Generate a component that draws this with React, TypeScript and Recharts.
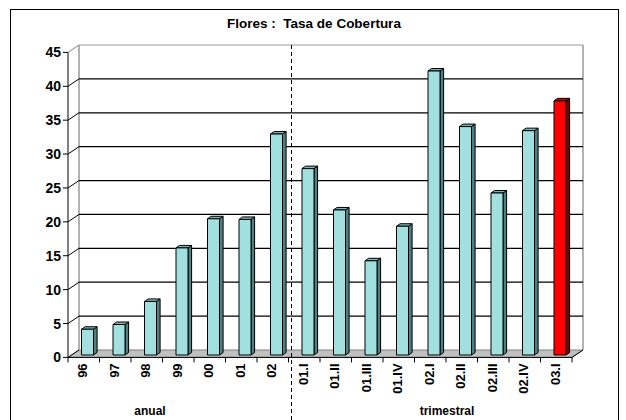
import React from "react";
import { BarChart, Bar, XAxis, YAxis, CartesianGrid } from "recharts";

const categories = ["96", "97", "98", "99", "00", "01", "02", "01.I", "01.II", "01.III", "01.IV", "02.I", "02.II", "02.III", "02.IV", "03.I"];
const tasa = [3.8, 4.5, 7.9, 15.8, 20.1, 20.0, 32.6, 27.5, 21.4, 13.9, 19.0, 41.9, 33.7, 23.9, 33.1, 37.5];
const yTicks = [0, 5, 10, 15, 20, 25, 30, 35, 40, 45];
const gridValues = [5, 10, 15, 20, 25, 30, 35, 40];
const groupLabels = ["anual", "trimestral"];
const highlighted = "03.I";

const data = categories.map((c, i) => ({ periodo: c, tasa: tasa[i] }));

// layout: plot area is the back wall, the front axes are shifted by the depth
const W = 626;
const H = 420;
const PL = 79;
const PT = 45;
const PR = 583;
const PB = 350;
const DX = -11;
const DY = 7.4;
const BAND = (PR - PL) / categories.length;
const YW = 60;
const XH = 50;

// bar placement inside the depth
const BX = -7.5;
const BY = 5;
const SX = 3.6;
const SY = -2.5;

const FONT = '"Liberation Sans", Arial, sans-serif';

function Box3D(props: any) {
  const { x, y, width, height, payload } = props;
  if (!height || height <= 0) return null;
  const red = payload.periodo === highlighted;
  const front = red ? "#ff0000" : "#a2e0e0";
  const side = red ? "#800000" : "#4f8080";
  const top = red ? "#c00000" : "#80b3b3";
  const fx = x + BX;
  const fy = y + BY;
  const w = width;
  const h = height;
  return (
    <g stroke="#000" strokeWidth={1} strokeLinejoin="round">
      <polygon
        points={`${fx + w},${fy} ${fx + w + SX},${fy + SY} ${fx + w + SX},${fy + h + SY} ${fx + w},${fy + h}`}
        fill={side}
      />
      <polygon
        points={`${fx},${fy} ${fx + SX},${fy + SY} ${fx + w + SX},${fy + SY} ${fx + w},${fy}`}
        fill={top}
      />
      <rect x={fx} y={fy} width={w} height={h} fill={front} />
    </g>
  );
}

function XTick(props: any) {
  const { x, payload } = props;
  const fx = x + DX;
  const half = BAND / 2;
  const last = payload.index === categories.length - 1;
  return (
    <g>
      <line x1={fx - half} y1={PB + DY} x2={fx - half} y2={PB + DY + 5} stroke="#000" />
      {last && <line x1={fx + half} y1={PB + DY} x2={fx + half} y2={PB + DY + 5} stroke="#000" />}
      <text
        transform={`translate(${fx - 1},${PB + DY + 6}) rotate(-90)`}
        textAnchor="end"
        dy="0.36em"
        fontFamily={FONT}
        fontWeight="bold"
        fontSize={13}
        fill="#000"
      >
        {payload.value}
      </text>
    </g>
  );
}

function YTick(props: any) {
  const { y, payload } = props;
  const fx = PL + DX;
  const fy = y + DY;
  return (
    <g>
      <line x1={PL} y1={y} x2={fx} y2={fy} stroke={payload.value === 45 ? "#808080" : "#000"} />
      <line x1={fx} y1={fy} x2={fx - 5} y2={fy} stroke="#000" />
      <text x={fx - 7} y={fy} dy="0.36em" textAnchor="end" fontFamily={FONT} fontWeight="bold" fontSize={14} fill="#000">
        {payload.value}
      </text>
    </g>
  );
}

export default function App() {
  const divX = 291.5;
  return (
    <div style={{ position: "relative", width: W, height: H, overflow: "hidden", background: "#fff" }}>
      <style>{"body{margin:0}"}</style>
      <svg width={W} height={H} style={{ position: "absolute", left: 0, top: 0 }}>
        <rect x={10.5} y={9.5} width={608} height={H} fill="#fff" stroke="#000" />
        <text
          x={314}
          y={23}
          textAnchor="middle"
          dy="0.36em"
          fontFamily={FONT}
          fontWeight="bold"
          fontSize={13.5}
          style={{ whiteSpace: "pre" }}
        >
          Flores :  Tasa de Cobertura
        </text>
        <polygon
          points={`${PL},${PB} ${PR},${PB} ${PR + DX},${PB + DY} ${PL + DX},${PB + DY}`}
          fill="#c0c0c0"
          stroke="#808080"
        />
        <line x1={PL} y1={PT} x2={PR} y2={PT} stroke="#999" />
        <line x1={PL} y1={PT} x2={PL} y2={PB} stroke="#999" strokeWidth={1.5} />
        <line x1={PR} y1={PT} x2={PR} y2={PB} stroke="#999" strokeWidth={1.5} />
        <line x1={PL + DX} y1={PT + DY} x2={PL + DX} y2={PB + DY} stroke="#000" />
        <line x1={PL + DX} y1={PB + DY} x2={PR + DX} y2={PB + DY} stroke="#000" />
        <line x1={PR + DX} y1={PB + DY} x2={PR} y2={PB} stroke="#000" />
        <text x={150} y={411} textAnchor="middle" dy="0.36em" fontFamily={FONT} fontWeight="bold" fontSize={12}>
          {groupLabels[0]}
        </text>
        <text x={447} y={411} textAnchor="middle" dy="0.36em" fontFamily={FONT} fontWeight="bold" fontSize={12}>
          {groupLabels[1]}
        </text>
      </svg>
      <div style={{ position: "absolute", left: 0, top: 0 }}>
        <BarChart
          width={W}
          height={H}
          data={data}
          margin={{ top: PT, right: W - PR, bottom: H - PB - XH, left: PL - YW }}
        >
          <CartesianGrid horizontal vertical={false} horizontalValues={gridValues} stroke="#000" strokeWidth={1.2} />
          <XAxis
            dataKey="periodo"
            height={XH}
            axisLine={false}
            tickLine={false}
            tickSize={0}
            tickMargin={0}
            interval={0}
            tick={(p: any) => <XTick {...p} />}
          />
          <YAxis
            width={YW}
            domain={[0, 45]}
            ticks={yTicks}
            axisLine={false}
            tickLine={false}
            tickSize={0}
            tickMargin={0}
            interval={0}
            tick={(p: any) => <YTick {...p} />}
          />
          <Bar dataKey="tasa" barSize={12} shape={(p: any) => <Box3D {...p} />} isAnimationActive={false} />
        </BarChart>
      </div>
      <svg width={W} height={H} style={{ position: "absolute", left: 0, top: 0, pointerEvents: "none" }}>
        <line x1={divX} y1={PT} x2={divX} y2={H} stroke="#000" strokeDasharray="4 3" />
      </svg>
    </div>
  );
}
